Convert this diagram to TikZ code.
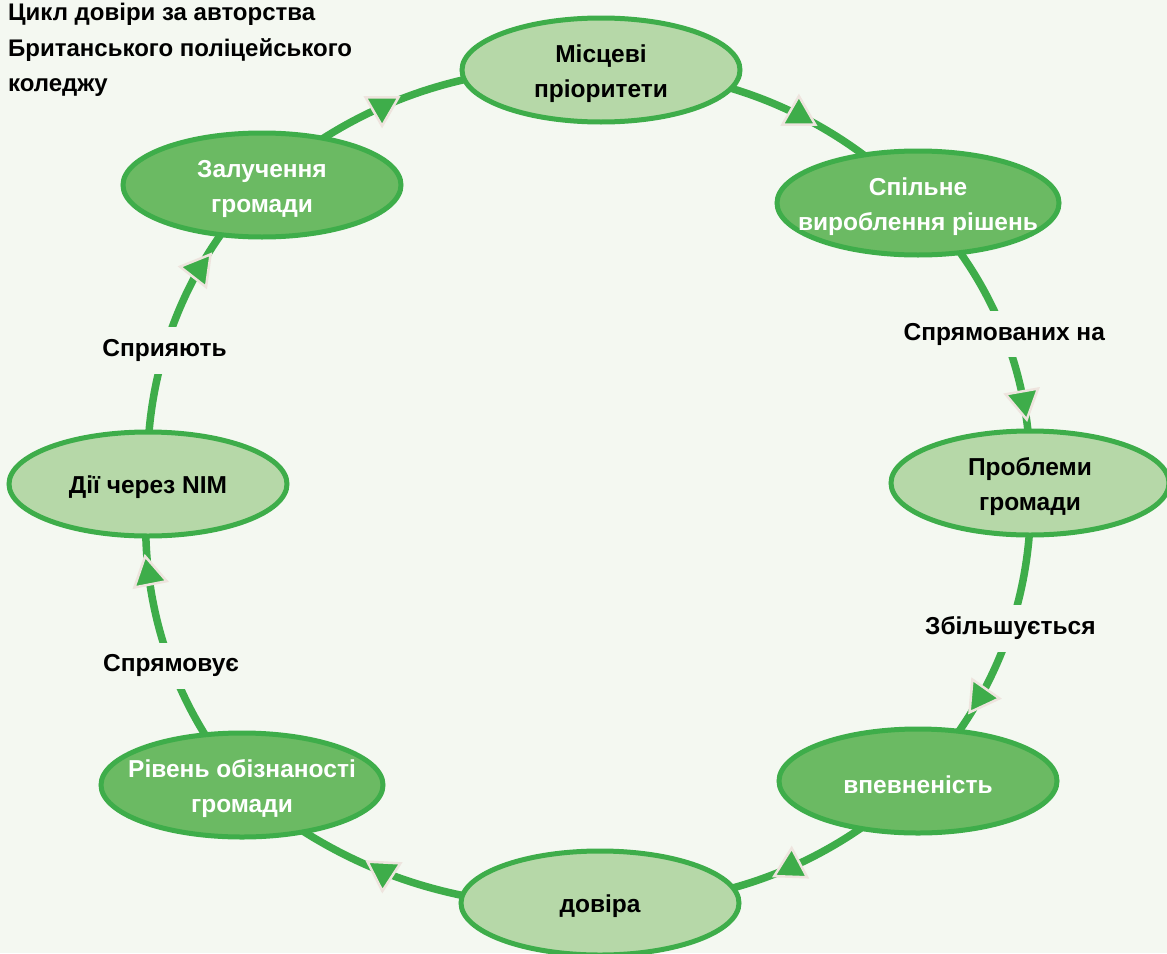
\documentclass[tikz,border=0pt]{standalone}
\usepackage{fontspec}
\setmainfont{Liberation Sans}
\usetikzlibrary{shapes.geometric}
\pgfdeclarelayer{paper}
\pgfdeclarelayer{ringlayer}
\pgfsetlayers{paper,ringlayer,main}
\definecolor{bg}{HTML}{F4F8F1}
\definecolor{ring}{HTML}{3EAD4A}
\definecolor{paleleaf}{HTML}{B6D8A8}
\definecolor{deepleaf}{HTML}{6BBA63}
\definecolor{tipedge}{HTML}{EEE4DE}
\begin{document}
\begin{tikzpicture}[x=1pt,y=-1pt,
  stage/.style={ellipse, draw=ring, line width=5pt, minimum width=278pt,
    minimum height=104pt, inner sep=0pt},
  wide/.style={minimum width=282pt},
  stagetext/.style={align=center, inner sep=0pt, yshift=-3.5pt,
    font=\bfseries\fontsize{24.5}{35}\selectfont},
  pale/.style={stage, fill=paleleaf, label={[stagetext, text=black]center:#1}},
  deep/.style={stage, fill=deepleaf, label={[stagetext, text=white]center:#1}},
  link/.style={draw=ring, line width=7.5pt, bend left=23.5, looseness=0.89},
  tip/.style={regular polygon, regular polygon sides=3, minimum size=38pt,
    inner sep=0pt, fill=ring, draw=tipedge, line width=2.5pt},
  tag/.style={fill=bg, inner sep=12pt, text=black,
    font=\bfseries\fontsize{24.5}{33}\selectfont}]

\begin{pgfonlayer}{paper}
\fill[bg] (0,0) rectangle (1167,953);
\end{pgfonlayer}
\useasboundingbox (0,0) rectangle (1167,953);

% title
\node[anchor=north west, inner sep=0pt, align=left,
  font=\bfseries\fontsize{24}{35.5}\selectfont] (title) at (8,3)
  {Цикл довіри за авторства\\Британського поліцейського\\коледжу};

% stages of the cycle
\node[pale={Місцеві\\пріоритети}] (n1) at (601,70) {};
\node[deep={Спільне\\вироблення рішень}, wide] (n2) at (918,203) {};
\node[pale={Проблеми\\громади}] (n3) at (1030,483) {};
\node[deep={впевненість}] (n4) at (918,781) {};
\node[pale={довіра}] (n5) at (600,903) {};
\node[deep={Рівень обізнаності\\громади}, wide] (n6) at (242,785) {};
\node[pale={Дії через NIM}] (n7) at (148,484) {};
\node[deep={Залучення\\громади}] (n8) at (262,185) {};

% connecting arcs, clockwise, drawn beneath the stages
\begin{pgfonlayer}{ringlayer}
\draw[link] (n1.center) to node[tip, pos=0.58, rotate=0] {} (n2.center);
\draw[link] (n2.center) to node[tag, pos=0.51] (l1) {Спрямованих на}
                    node[tip, pos=0.735, rotate=-50] {} (n3.center);
\draw[link] (n3.center) to node[tag, pos=0.45] (l2) {Збільшується}
                    node[tip, pos=0.68, rotate=25] {} (n4.center);
\draw[link] (n4.center) to node[tip, pos=0.44, rotate=-2] {} (n5.center);
\draw[link] (n5.center) to node[tip, pos=0.57, rotate=-63] {} (n6.center);
\draw[link] (n6.center) to node[tag, pos=0.43] (l3) {Спрямовує}
                    node[tip, pos=0.72, rotate=11] {} (n7.center);
\draw[link] (n7.center) to node[tag, pos=0.41] (l4) {Сприяють}
                    node[tip, pos=0.68, rotate=-38] {} (n8.center);
\draw[link] (n8.center) to node[tip, pos=0.39, rotate=-60] {} (n1.center);
\end{pgfonlayer}
\end{tikzpicture}
\end{document}
